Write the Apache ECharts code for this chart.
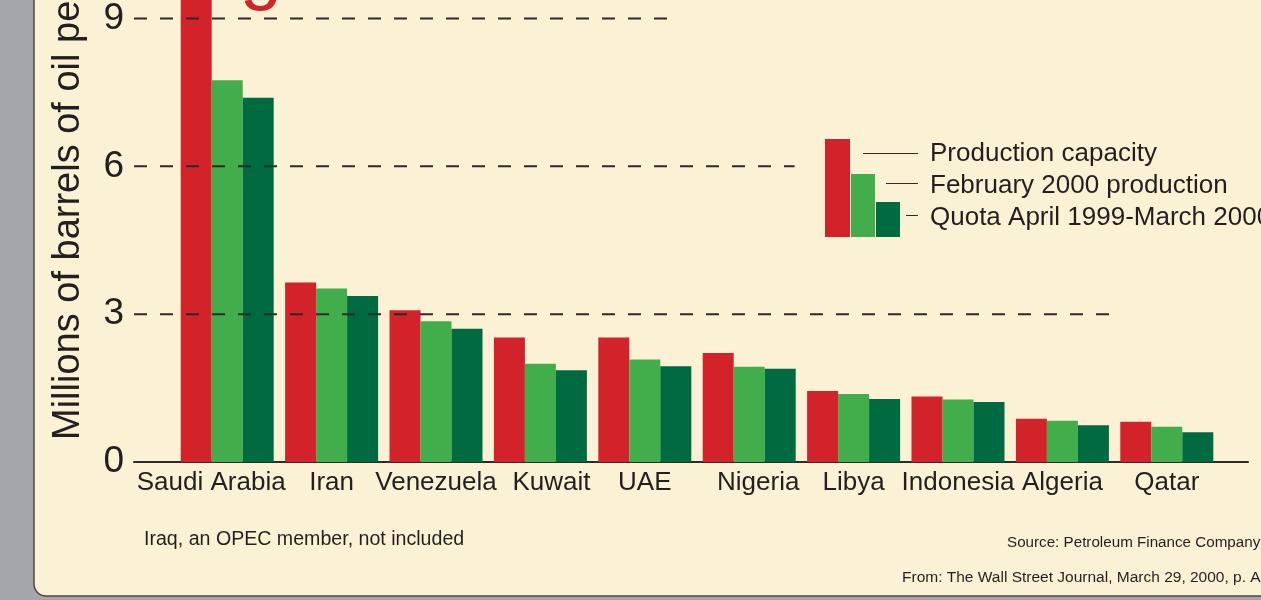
<!DOCTYPE html>
<html>
<head>
<meta charset="utf-8">
<script src="https://cdn.jsdelivr.net/npm/echarts@6/dist/echarts.min.js"></script>
<style>
  html, body { margin: 0; padding: 0; background: #a5a6aa; }
  #main { width: 1261px; height: 600px; }
</style>
</head>
<body>
<div id="main"></div>
<script>
// OPEC members, millions of barrels per day
var categories = ['Saudi Arabia', 'Iran', 'Venezuela', 'Kuwait', 'UAE', 'Nigeria', 'Libya', 'Indonesia', 'Algeria', 'Qatar'];
var capacity = [10.5, 3.62, 3.06, 2.51, 2.51, 2.20, 1.43, 1.32, 0.87, 0.81];
var febProduction = [7.70, 3.50, 2.84, 1.98, 2.07, 1.92, 1.37, 1.26, 0.83, 0.71];
var quota = [7.35, 3.35, 2.69, 1.85, 1.93, 1.88, 1.27, 1.21, 0.74, 0.60];
var yTicks = [0, 3, 6, 9];
var seriesNames = ['Production capacity', 'February 2000 production', 'Quota April 1999-March 2000'];

var RED = '#d2232a', GREEN = '#41ae4b', DARK = '#006a40', INK = '#231f20';
var FONT = '"Liberation Sans", Arial, sans-serif';
var Y_MAX = 9.32;

// how far each dashed guide runs (fraction of the axis line)
var dashReach = { 3: 0.881, 6: 0.593, 9: 0.483 };
// small horizontal nudges of a few category labels (px, + = right)
var labelNudge = { 'Saudi Arabia': -16, 'Kuwait': 11, 'Nigeria': 9 };

var catData = categories.map(function (c) {
  var n = labelNudge[c] || 0;
  if (!n) return c;
  return { value: c, textStyle: { padding: n < 0 ? [0, -2 * n, 0, 0] : [0, 0, 0, 2 * n] } };
});

var dashSeries = yTicks.filter(function (t) { return t > 0; }).map(function (t) {
  return {
    type: 'line', xAxisIndex: 1, yAxisIndex: 1, z: 5, symbol: 'none', silent: true,
    lineStyle: { color: '#2e2b2b', width: 2, type: [13, 13] },
    data: [[0, t], [dashReach[t], t]]
  };
});

function bar(name, data, color) {
  return {
    name: name, type: 'bar', data: data, barWidth: 31, barGap: '0%',
    itemStyle: { color: color }
  };
}

var option = {
  backgroundColor: '#a5a6aa',
  animation: false,
  grid: [
    { left: 175, right: 42, top: 0, bottom: 138 },
    { left: 134, right: 13, top: 0, bottom: 138 }
  ],
  xAxis: [
    {
      type: 'category', gridIndex: 0, data: catData,
      axisLine: { show: false }, axisTick: { show: false },
      axisLabel: { interval: 0, fontSize: 26, fontFamily: FONT, color: INK, margin: 8 }
    },
    {
      type: 'value', gridIndex: 1, min: 0, max: 1,
      axisLine: { show: true, lineStyle: { color: '#2e2b2b', width: 2 } },
      axisTick: { show: false }, axisLabel: { show: false }, splitLine: { show: false }
    }
  ],
  yAxis: [
    {
      type: 'value', gridIndex: 0, min: 0, max: Y_MAX, interval: 3, show: false,
      splitLine: { show: false }
    },
    {
      type: 'value', gridIndex: 1, min: 0, max: Y_MAX, interval: 3,
      axisLine: { show: false }, axisTick: { show: false }, splitLine: { show: false },
      axisLabel: {
        fontSize: 37, fontFamily: FONT, color: INK, margin: 10, padding: [6, 0, 0, 0],
        formatter: function (v) { return yTicks.indexOf(v) >= 0 ? String(v) : ''; }
      }
    }
  ],
  series: [
    bar(seriesNames[0], capacity, RED),
    bar(seriesNames[1], febProduction, GREEN),
    bar(seriesNames[2], quota, DARK)
  ].concat(dashSeries),
  graphic: [
    // cream panel
    { type: 'rect', z: -10, silent: true,
      shape: { x: 34, y: -20, width: 1260, height: 616, r: 12 },
      style: { fill: '#fbf1d4', stroke: '#4a4a4a', lineWidth: 1.5 } },
    // bit of the red headline peeking in at the top
    { type: 'text', x: 261, y: 12, z: 1,
      style: { text: 'g', fill: RED, font: '76px ' + FONT, align: 'center', verticalAlign: 'bottom' } },
    // axis title
    { type: 'text', x: 69, y: 440, rotation: Math.PI / 2,
      style: { text: 'Millions of barrels of oil per day', fill: INK, font: '38px ' + FONT,
               align: 'left', verticalAlign: 'middle' } },
    // legend: little bar group
    { type: 'rect', shape: { x: 825, y: 139, width: 25, height: 98 }, style: { fill: RED } },
    { type: 'rect', shape: { x: 851, y: 174, width: 24, height: 63 }, style: { fill: GREEN } },
    { type: 'rect', shape: { x: 876, y: 202, width: 24, height: 35 }, style: { fill: DARK } },
    { type: 'line', shape: { x1: 863, y1: 153.5, x2: 918, y2: 153.5 }, style: { stroke: '#2e2b2b', lineWidth: 1 } },
    { type: 'line', shape: { x1: 886, y1: 183.5, x2: 918, y2: 183.5 }, style: { stroke: '#2e2b2b', lineWidth: 1 } },
    { type: 'line', shape: { x1: 906, y1: 215.5, x2: 918, y2: 215.5 }, style: { stroke: '#2e2b2b', lineWidth: 1 } },
    { type: 'text', x: 930, y: 154, style: { text: seriesNames[0], fill: INK, font: '26px ' + FONT, verticalAlign: 'middle' } },
    { type: 'text', x: 930, y: 186, style: { text: seriesNames[1], fill: INK, font: '26px ' + FONT, verticalAlign: 'middle' } },
    { type: 'text', x: 930, y: 218, style: { text: seriesNames[2], fill: INK, font: '26px ' + FONT, verticalAlign: 'middle' } },
    // notes
    { type: 'text', x: 144, y: 540, style: { text: 'Iraq, an OPEC member, not included', fill: INK, font: '19.6px ' + FONT, verticalAlign: 'middle' } },
    { type: 'text', x: 1007, y: 543, style: { text: 'Source: Petroleum Finance Company', fill: INK, font: '15.2px ' + FONT, verticalAlign: 'middle' } },
    { type: 'text', x: 902, y: 578, style: { text: 'From: The Wall Street Journal, March 29, 2000, p. A3', fill: INK, font: '15.5px ' + FONT, verticalAlign: 'middle' } }
  ]
};

var myChart = echarts.init(document.getElementById('main'));
myChart.setOption(option);
</script>
</body>
</html>
